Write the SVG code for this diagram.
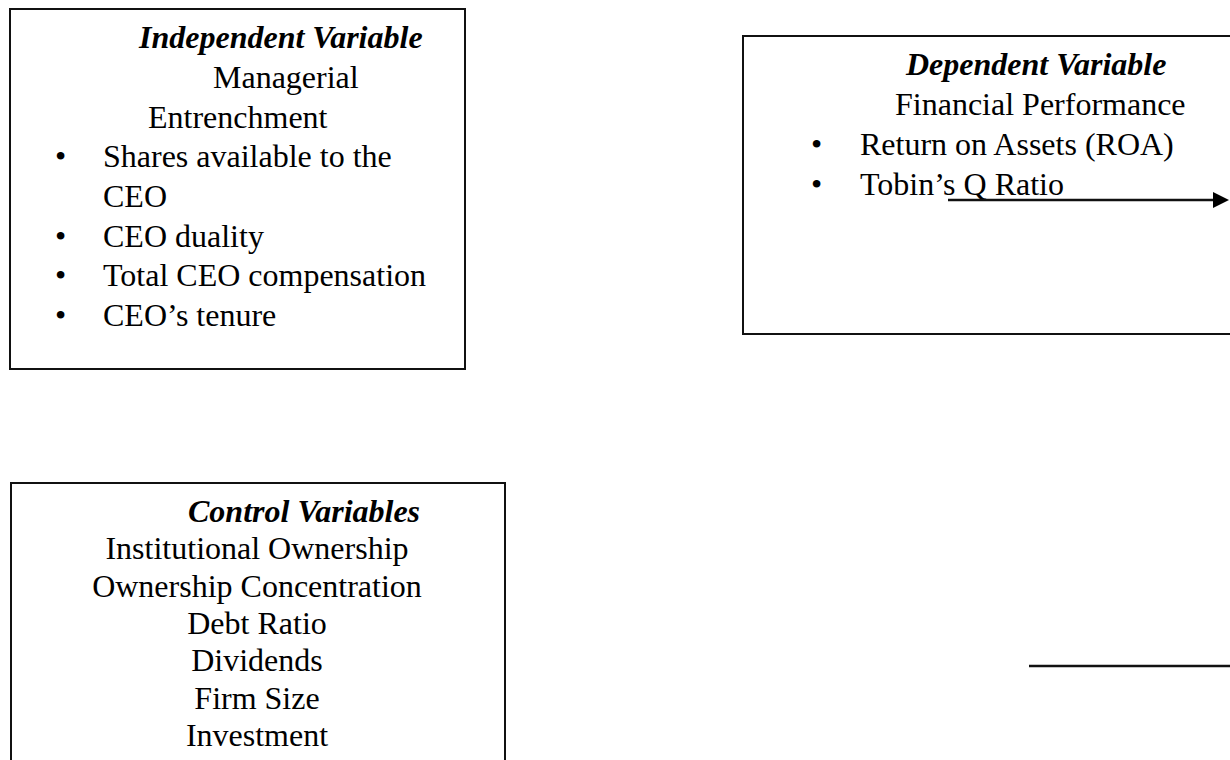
<svg xmlns="http://www.w3.org/2000/svg" width="1230" height="760" viewBox="0 0 1230 760">
<style>
.box{fill:#fff;stroke:#111;stroke-width:2}
.t{font-family:"Liberation Serif","Times New Roman",serif;font-size:32px;fill:#000}
.h{font-weight:bold;font-style:italic}
.c{text-anchor:middle}
.ln{stroke:#111;stroke-width:2.5;fill:none}
</style>
<rect width="1230" height="760" fill="#fff"/>
<g id="independent">
<rect class="box" x="10" y="9" width="455" height="360"/>
<text class="t h" x="139" y="48">Independent Variable</text>
<text class="t" x="213" y="88">Managerial</text>
<text class="t" x="148" y="128">Entrenchment</text>
<text class="t" x="55" y="167">•</text><text class="t" x="103" y="167">Shares available to the</text>
<text class="t" x="103" y="207">CEO</text>
<text class="t" x="55" y="247">•</text><text class="t" x="103" y="247">CEO duality</text>
<text class="t" x="55" y="286">•</text><text class="t" x="103" y="286">Total CEO compensation</text>
<text class="t" x="55" y="326">•</text><text class="t" x="103" y="326">CEO’s tenure</text>
</g>
<g id="dependent">
<rect class="box" x="743" y="36" width="500" height="298"/>
<text class="t h" x="906" y="75">Dependent Variable</text>
<text class="t" x="895" y="115">Financial Performance</text>
<text class="t" x="811" y="155">•</text><text class="t" x="860" y="155">Return on Assets (ROA)</text>
<text class="t" x="811" y="195">•</text><text class="t" x="860" y="195">Tobin’s Q Ratio</text>
</g>
<g id="control">
<rect class="box" x="11" y="483" width="494" height="300"/>
<text class="t h" x="188" y="522">Control Variables</text>
<text class="t c" x="257" y="559">Institutional Ownership</text>
<text class="t c" x="257" y="597">Ownership Concentration</text>
<text class="t c" x="257" y="634">Debt Ratio</text>
<text class="t c" x="257" y="671">Dividends</text>
<text class="t c" x="257" y="709">Firm Size</text>
<text class="t c" x="257" y="746">Investment</text>
</g>
<g id="connectors">
<line class="ln" x1="948" y1="200" x2="1214" y2="200"/>
<path d="M1213,192 L1229,200 L1213,208 Z" fill="#000"/>
<line class="ln" x1="1029" y1="666" x2="1230" y2="666"/>
</g>
</svg>
